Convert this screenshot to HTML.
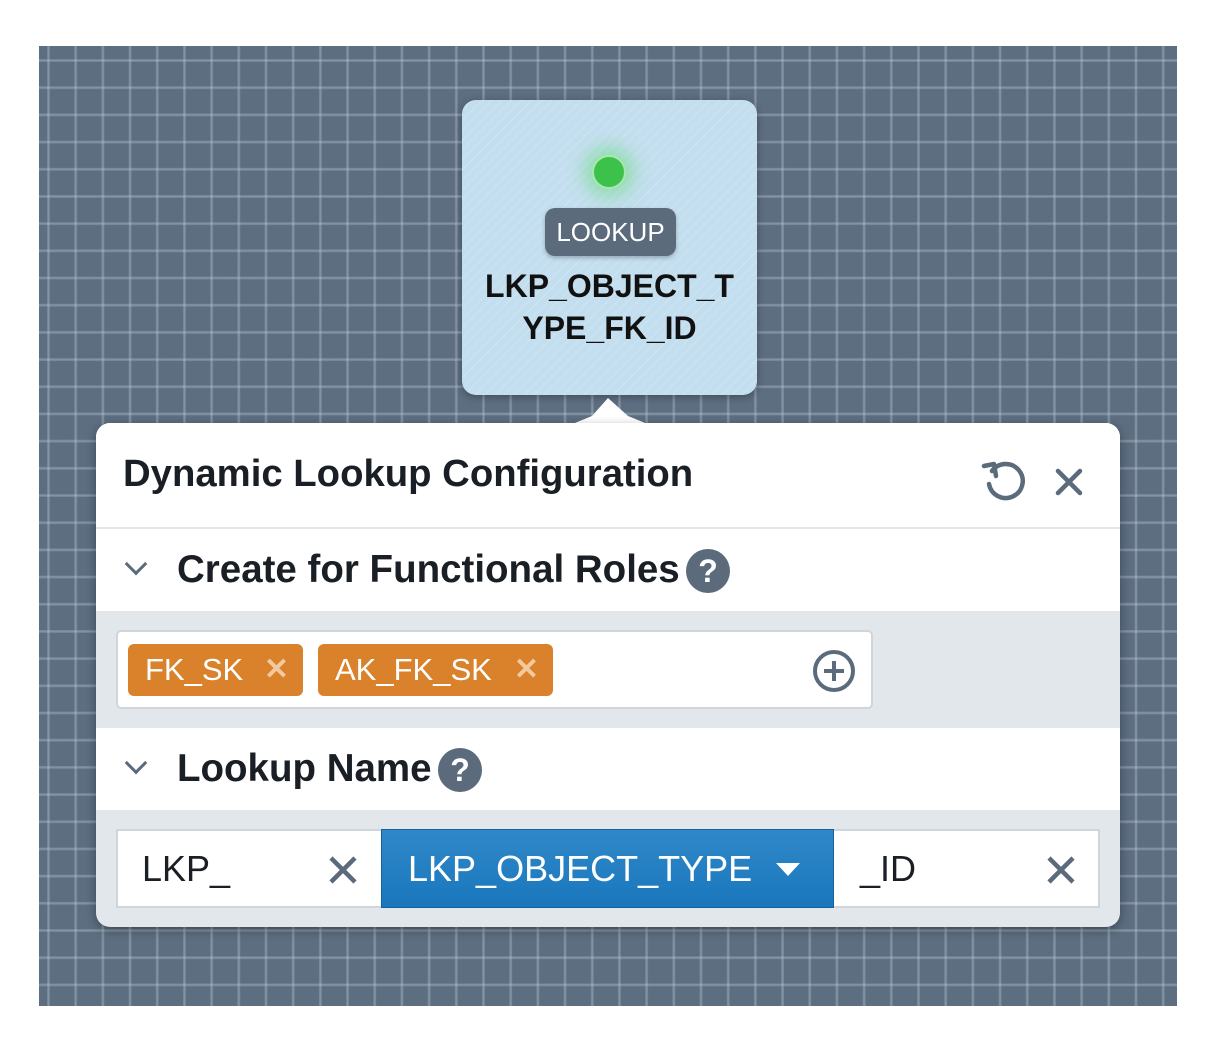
<!DOCTYPE html>
<html><head><meta charset="utf-8"><style>
*{margin:0;padding:0;box-sizing:border-box}
body{width:1216px;height:1055px;background:#fff;position:relative;overflow:hidden;font-family:"Liberation Sans",Arial,sans-serif}
.abs{position:absolute}
#canvas{left:39px;top:46px;width:1138px;height:960px;background-color:#5c6e80;
background-image:linear-gradient(90deg,rgba(180,194,208,.2) 0,rgba(190,202,214,.45) 1.5px,rgba(180,194,208,.2) 3px,transparent 3px),linear-gradient(0deg,rgba(180,194,208,.2) 0,rgba(190,202,214,.45) 1.5px,rgba(180,194,208,.2) 3px,transparent 3px);
background-size:27.2px 27.2px;background-position:8px 16px}
#node{left:462px;top:100px;width:295px;height:295px;border-radius:14px;background:#c3deef;
background-image:repeating-linear-gradient(135deg,rgba(255,255,255,.18) 0,rgba(255,255,255,.18) 1px,transparent 1px,transparent 7px);box-shadow:0 2px 8px rgba(0,0,0,.3)}
.dot{left:592px;top:155px;width:34px;height:34px;border-radius:50%;background:#3cc24a;border:2px solid #a9e6b0;box-shadow:0 0 18px 8px rgba(80,220,90,.45)}
.badge{left:545px;top:208px;width:131px;height:48px;border-radius:10px;background:#5b6b7c;color:#fff;font-size:26px;text-align:center;line-height:48px;box-shadow:0 2px 4px rgba(0,0,0,.25)}
.nlabel{left:452px;top:265px;width:315px;text-align:center;font-weight:bold;font-size:32px;line-height:42px;color:#111}
#pop{left:96px;top:423px;width:1024px;height:504px;border-radius:14px;background:#e1e7eb;overflow:hidden;box-shadow:0 3px 10px rgba(0,0,0,.35)}
.white{background:#fff}
.h{font-weight:bold;color:#1a1f26}
.chev{width:16px;height:16px;border-right:3.5px solid #5b6b7c;border-bottom:3.5px solid #5b6b7c;transform:rotate(45deg)}
.q{width:44px;height:44px;border-radius:50%;background:#5b6b7c;color:#fff;font-weight:bold;font-size:32px;text-align:center;line-height:44px}
.tag{height:52px;border-radius:6px;background:#d9822b;color:#fff;font-size:31px;line-height:52px;padding-left:17px}
.tag span{position:absolute;right:14px;top:0;color:#f3c9a0;font-size:30px;font-weight:bold}
</style></head><body>
<div id="canvas" class="abs"></div>
<div id="node" class="abs"></div>
<div class="abs dot"></div>
<div class="abs badge">LOOKUP</div>
<div class="abs nlabel">LKP_OBJECT_T<br>YPE_FK_ID</div>
<svg class="abs" style="left:570px;top:394px" width="80" height="32"><path d="M0 31 L22 22 L38 4 L58 22 L80 31 Z" fill="#fff"/></svg>
<div id="pop" class="abs">
  <div class="abs white" style="left:0;top:0;width:1024px;height:104px"></div>
  <div class="abs h" style="left:27px;top:29px;font-size:38.3px">Dynamic Lookup Configuration</div>
  <svg class="abs" style="left:884px;top:33px" width="50" height="50"><path d="M12 15 A17 17 0 1 1 9 28" fill="none" stroke="#5b6b7c" stroke-width="4.5" stroke-linecap="round"/><path d="M4 10 L14 8 L16 20" fill="none" stroke="#5b6b7c" stroke-width="4.5" stroke-linecap="round" stroke-linejoin="round"/></svg>
  <svg class="abs" style="left:958px;top:44px" width="30" height="30"><path d="M4 4 L26 26 M26 4 L4 26" stroke="#5b6b7c" stroke-width="4.5" stroke-linecap="round"/></svg>
  <div class="abs white" style="left:0;top:106px;width:1024px;height:82px"></div>
  <div class="abs chev" style="left:32px;top:133px"></div>
  <div class="abs h" style="left:81px;top:125px;font-size:38.5px">Create for Functional Roles</div>
  <div class="abs q" style="left:590px;top:126px">?</div>
  <div class="abs white" style="left:20px;top:207px;width:757px;height:79px;border:2px solid #cfd5da;border-radius:5px"></div>
  <div class="abs tag" style="left:32px;top:221px;width:175px">FK_SK<span>✕</span></div>
  <div class="abs tag" style="left:222px;top:221px;width:235px">AK_FK_SK<span>✕</span></div>
  <svg class="abs" style="left:715px;top:225px" width="46" height="46"><circle cx="23" cy="23" r="19" fill="none" stroke="#5b6b7c" stroke-width="4"/><path d="M23 13 V33 M13 23 H33" stroke="#5b6b7c" stroke-width="4"/></svg>
  <div class="abs white" style="left:0;top:305px;width:1024px;height:82px"></div>
  <div class="abs chev" style="left:32px;top:332px"></div>
  <div class="abs h" style="left:81px;top:324px;font-size:38.5px">Lookup Name</div>
  <div class="abs q" style="left:342px;top:325px">?</div>
  <div class="abs white" style="left:20px;top:406px;width:984px;height:79px;border:2px solid #cfd5da"></div>
  <div class="abs" style="left:46px;top:425px;font-size:36px;color:#1a1f26">LKP_</div>
  <svg class="abs" style="left:232px;top:432px" width="30" height="30"><path d="M3 3 L27 27 M27 3 L3 27" stroke="#5b6b7c" stroke-width="4.5"/></svg>
  <div class="abs" style="left:285px;top:406px;width:453px;height:79px;background:linear-gradient(#2f88c8,#1a77bd);border:1.5px solid #17609a"></div>
  <div class="abs" style="left:312px;top:425px;font-size:36px;color:#fff">LKP_OBJECT_TYPE</div>
  <svg class="abs" style="left:680px;top:440px" width="24" height="16"><path d="M0 0 H24 L12 13 Z" fill="#fff"/></svg>
  <div class="abs" style="left:764px;top:425px;font-size:36px;color:#1a1f26">_ID</div>
  <svg class="abs" style="left:950px;top:432px" width="30" height="30"><path d="M3 3 L27 27 M27 3 L3 27" stroke="#5b6b7c" stroke-width="4.5"/></svg>
</div>
</body></html>
